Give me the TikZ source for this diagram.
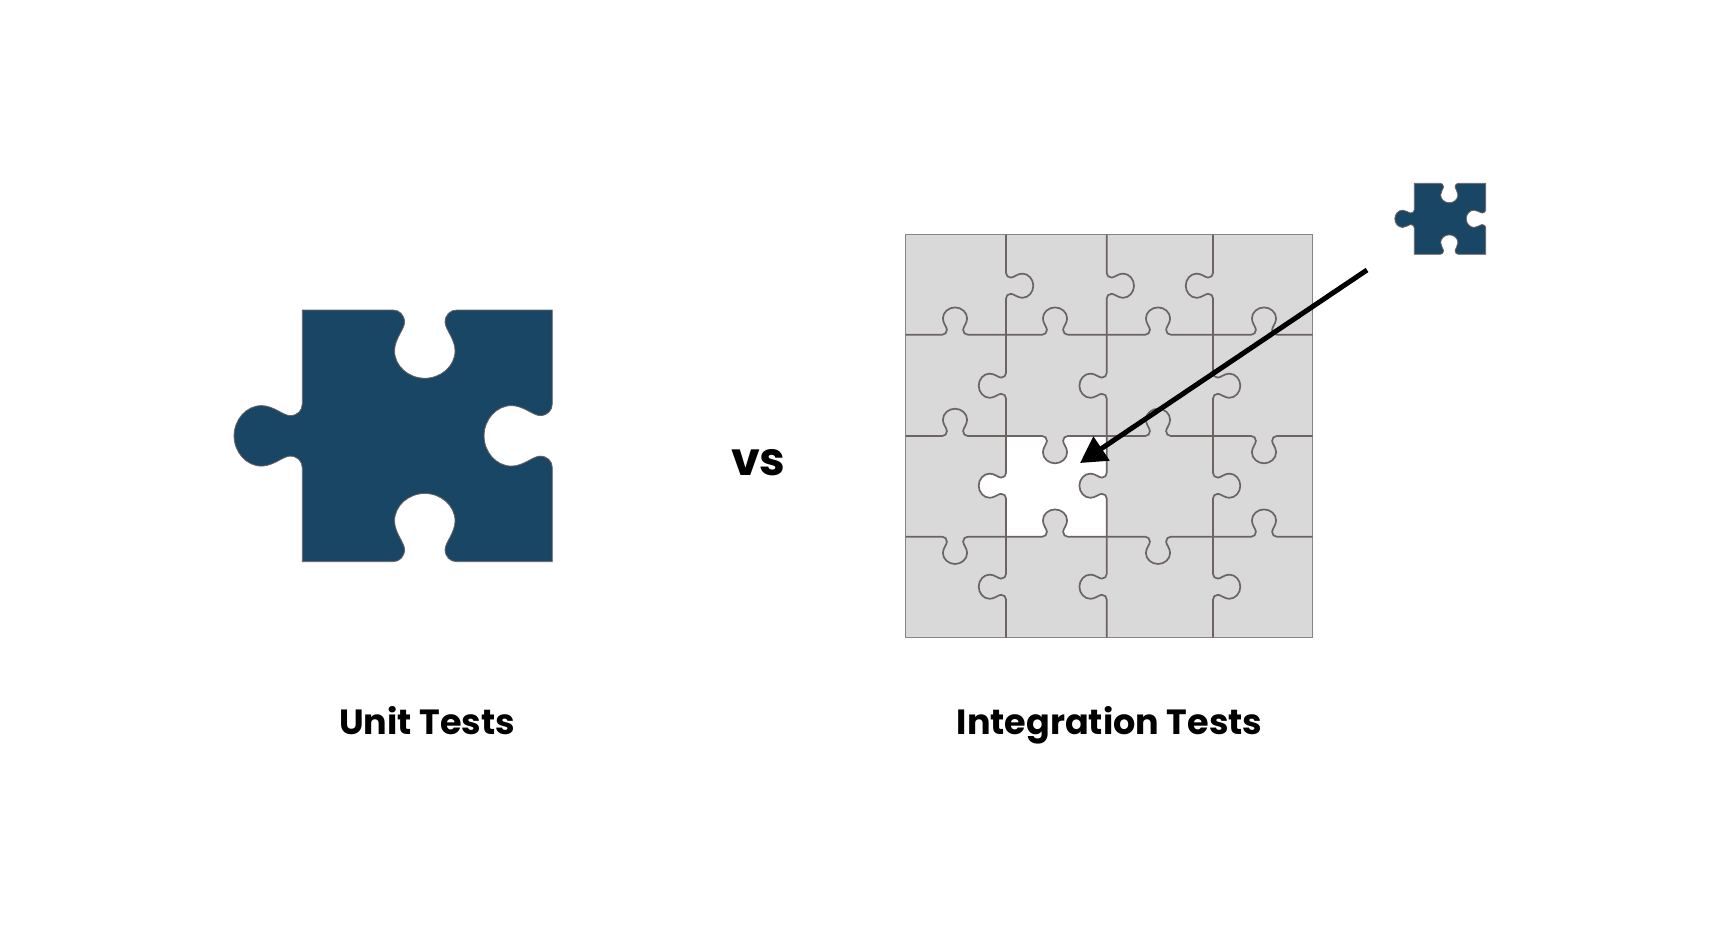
\documentclass[tikz,border=0pt]{standalone}
\usepackage{fontspec}
\setmainfont{Poppins}
\usetikzlibrary{arrows.meta}
\definecolor{pieceblue}{HTML}{1A4666}
\definecolor{piecegray}{HTML}{D9D9D9}
\definecolor{seamgray}{HTML}{6B6462}
\newcommand{\jigtab}[5]{{[shift={(#1,#2)},rotate=#3,xscale=#4,yscale=#5]
    -- (-.128,0) .. controls (-.101,0)  and (-.081,.02)  .. (-.081,.049)
                 .. controls (-.081,.076) and (-.121,.116) .. (-.121,.163)
                 .. controls (-.121,.225) and (-.064,.273) .. (0,.273)
                 .. controls (.064,.273)  and (.121,.225)  .. (.121,.163)
                 .. controls (.121,.116)  and (.081,.076)  .. (.081,.049)
                 .. controls (.081,.02)   and (.101,0)     .. (.128,0)}}
\newcommand{\jigpiece}[4]{(#1,#2)
    \jigtab{#1+.49*#3}{#2}{0}{#3}{#3}
    -- (#1+#3,#2)
    \jigtab{#1+#3}{#2+.5*#4}{90}{#3}{#3}
    -- (#1+#3,#2+#4)
    \jigtab{#1+.49*#3}{#2+#4}{180}{#3}{#3}
    -- (#1,#2+#4)
    \jigtab{#1}{#2+.5*#4}{270}{#3}{-#3}
    -- cycle}
\tikzset{
    bluepiece/.style={fill=pieceblue, draw=seamgray, line width=0.8pt},
    seam/.style={draw=seamgray, line width=1.7pt},
    caption/.style={font=\bfseries\fontsize{35}{44}\selectfont, text=black, anchor=base},
    pusharrow/.style={draw=black, line width=5pt, -{Triangle[length=26pt,width=28pt]}}
}
\begin{document}
\begin{tikzpicture}[x=1pt, y=1pt, yscale=-1]
        \useasboundingbox (0,0) rectangle (1712,929);
        \path[bluepiece] \jigpiece{302.3}{310}{250}{251.7};
        \path[bluepiece] \jigpiece{1414.3}{183.3}{71.4}{71};
        \path[fill=piecegray, draw=seamgray!80!white, line width=1.2pt] (905.7,234.7) rectangle (1312.7,637.7);
        \path[fill=white] \jigpiece{1006}{436}{100.7}{100.7};
        \draw[seam] (1006,234.7)
            \jigtab{1006}{285.7}{90}{100}{-100}
            \jigtab{1006}{385.7}{90}{100}{100}
            \jigtab{1006}{485.7}{90}{100}{100}
            \jigtab{1006}{586.7}{90}{100}{100}
            -- (1006,637.7);
        \draw[seam] (1106.7,234.7)
            \jigtab{1106.7}{285.7}{90}{100}{-100}
            \jigtab{1106.7}{385.7}{90}{100}{100}
            \jigtab{1106.7}{485.7}{90}{100}{100}
            \jigtab{1106.7}{586.7}{90}{100}{100}
            -- (1106.7,637.7);
        \draw[seam] (1213,234.7)
            \jigtab{1213}{285.7}{90}{100}{100}
            \jigtab{1213}{385.7}{90}{100}{-100}
            \jigtab{1213}{485.7}{90}{100}{-100}
            \jigtab{1213}{586.7}{90}{100}{-100}
            -- (1213,637.7);
        \draw[seam] (905.7,334.7)
            \jigtab{955}{334.7}{0}{100}{-100}
            \jigtab{1055}{334.7}{0}{100}{-100}
            \jigtab{1158}{334.7}{0}{100}{-100}
            \jigtab{1264}{334.7}{0}{100}{-100}
            -- (1312.7,334.7);
        \draw[seam] (905.7,436)
            \jigtab{955}{436}{0}{100}{-100}
            \jigtab{1055}{436}{0}{100}{100}
            \jigtab{1158}{436}{0}{100}{-100}
            \jigtab{1264}{436}{0}{100}{100}
            -- (1312.7,436);
        \draw[seam] (905.7,536.7)
            \jigtab{955}{536.7}{0}{100}{100}
            \jigtab{1055}{536.7}{0}{100}{-100}
            \jigtab{1158}{536.7}{0}{100}{100}
            \jigtab{1264}{536.7}{0}{100}{-100}
            -- (1312.7,536.7);
        \coordinate (tail) at (1367,270);
        \coordinate (tip)  at (1080,463);
        \draw[pusharrow] (tail) -- (tip);
        \node[caption, font=\bfseries\fontsize{46}{50}\selectfont] (vs) at (758.3,475) {vs};
        \node[caption] (unit)  at (427,734.3) {Unit Tests};
        \node[caption] (integ) at (1109.5,734.3) {Integration Tests};
    \end{tikzpicture}
\end{document}
